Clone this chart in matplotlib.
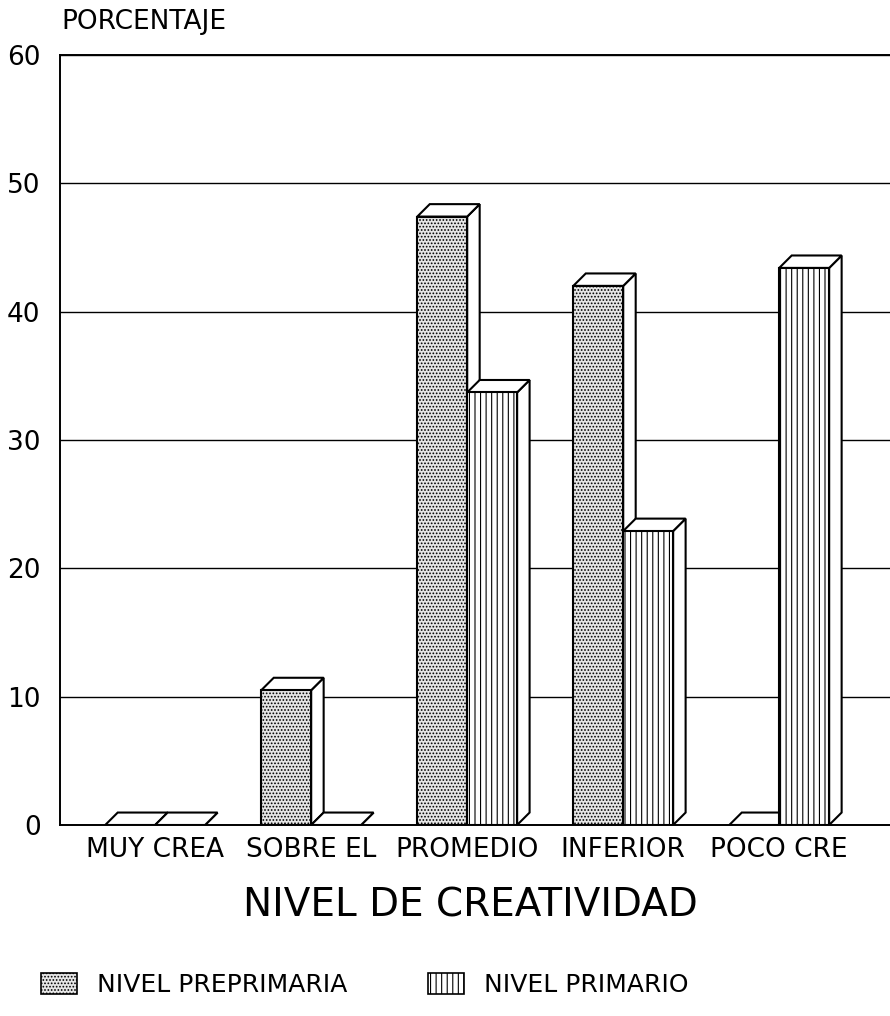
import matplotlib
matplotlib.use("Agg")
import matplotlib.pyplot as plt
from matplotlib.patches import Polygon, Patch

categories = ["MUY CREA", "SOBRE EL", "PROMEDIO", "INFERIOR", "POCO CRE"]
preprimaria = [0, 10.5, 47.4, 42.0, 0]
primario = [0, 0, 33.7, 22.9, 43.4]
yticks = [0, 10, 20, 30, 40, 50, 60]
series_names = ["NIVEL PREPRIMARIA", "NIVEL PRIMARIO"]

FONT = "DejaVu Sans"
plt.rcParams["font.family"] = FONT
plt.rcParams["hatch.linewidth"] = 0.8

BAR_W = 0.32
DX = 0.08   # depth offset in x (category units)
DY = 0.97   # depth offset in y (data units)


def draw_bar(ax, x0, h, hatch, face, z):
    x1 = x0 + BAR_W
    # side face
    side = Polygon([(x1, 0), (x1 + DX, DY), (x1 + DX, h + DY), (x1, h)],
                   closed=True, facecolor="white", edgecolor="black",
                   linewidth=1.5, zorder=z)
    # top face
    top = Polygon([(x0, h), (x0 + DX, h + DY), (x1 + DX, h + DY), (x1, h)],
                  closed=True, facecolor="white", edgecolor="black",
                  linewidth=1.5, zorder=z)
    ax.add_patch(side)
    ax.add_patch(top)
    if h > 0:
        ax.bar(x0, h, width=BAR_W, align="edge", facecolor=face,
               edgecolor="black", hatch=hatch, linewidth=1.5, zorder=z)


def main():
    fig = plt.figure(figsize=(8.9, 10.16), dpi=100)
    ax = fig.add_axes([0.0674, 0.188, 0.9326, 0.758])

    for i in range(len(categories)):
        draw_bar(ax, i - BAR_W, preprimaria[i], ".....", "#e6e6e6", 3 + 2 * i)
        draw_bar(ax, i, primario[i], "|||", "white", 4 + 2 * i)

    ax.set_xlim(-0.61, 4.71)
    ax.set_ylim(0, 60)
    ax.set_yticks(yticks)
    ax.set_xticks(range(len(categories)))
    ax.set_xticklabels(categories, fontsize=19)
    ax.tick_params(axis="y", length=0, pad=14, labelsize=19)
    ax.tick_params(axis="x", length=0, pad=9)

    ax.set_axisbelow(True)
    ax.yaxis.grid(True, color="black", linewidth=1.0)
    for s in ["left", "top", "bottom"]:
        ax.spines[s].set_linewidth(1.4)
    ax.spines["right"].set_visible(False)

    ax.set_xlabel("NIVEL DE CREATIVIDAD", fontsize=28)
    ax.xaxis.set_label_coords(0.494, -0.080)

    fig.text(0.069, 1 - 22 / 1016, "PORCENTAJE", fontsize=19,
             ha="left", va="center")

    handles = [
        Patch(facecolor="#e6e6e6", edgecolor="black", hatch=".....", linewidth=1.2),
        Patch(facecolor="white", edgecolor="black", hatch="|||", linewidth=1.2),
    ]
    fig.legend(handles, series_names, loc="center", ncol=2,
               bbox_to_anchor=(0.41, 1 - 985 / 1016), frameon=False,
               fontsize=18, handlelength=1.45, handleheight=0.9,
               handletextpad=0.8, columnspacing=3.2)

    fig.savefig("out.png", dpi=100)
    plt.close(fig)


if __name__ == "__main__":
    main()
